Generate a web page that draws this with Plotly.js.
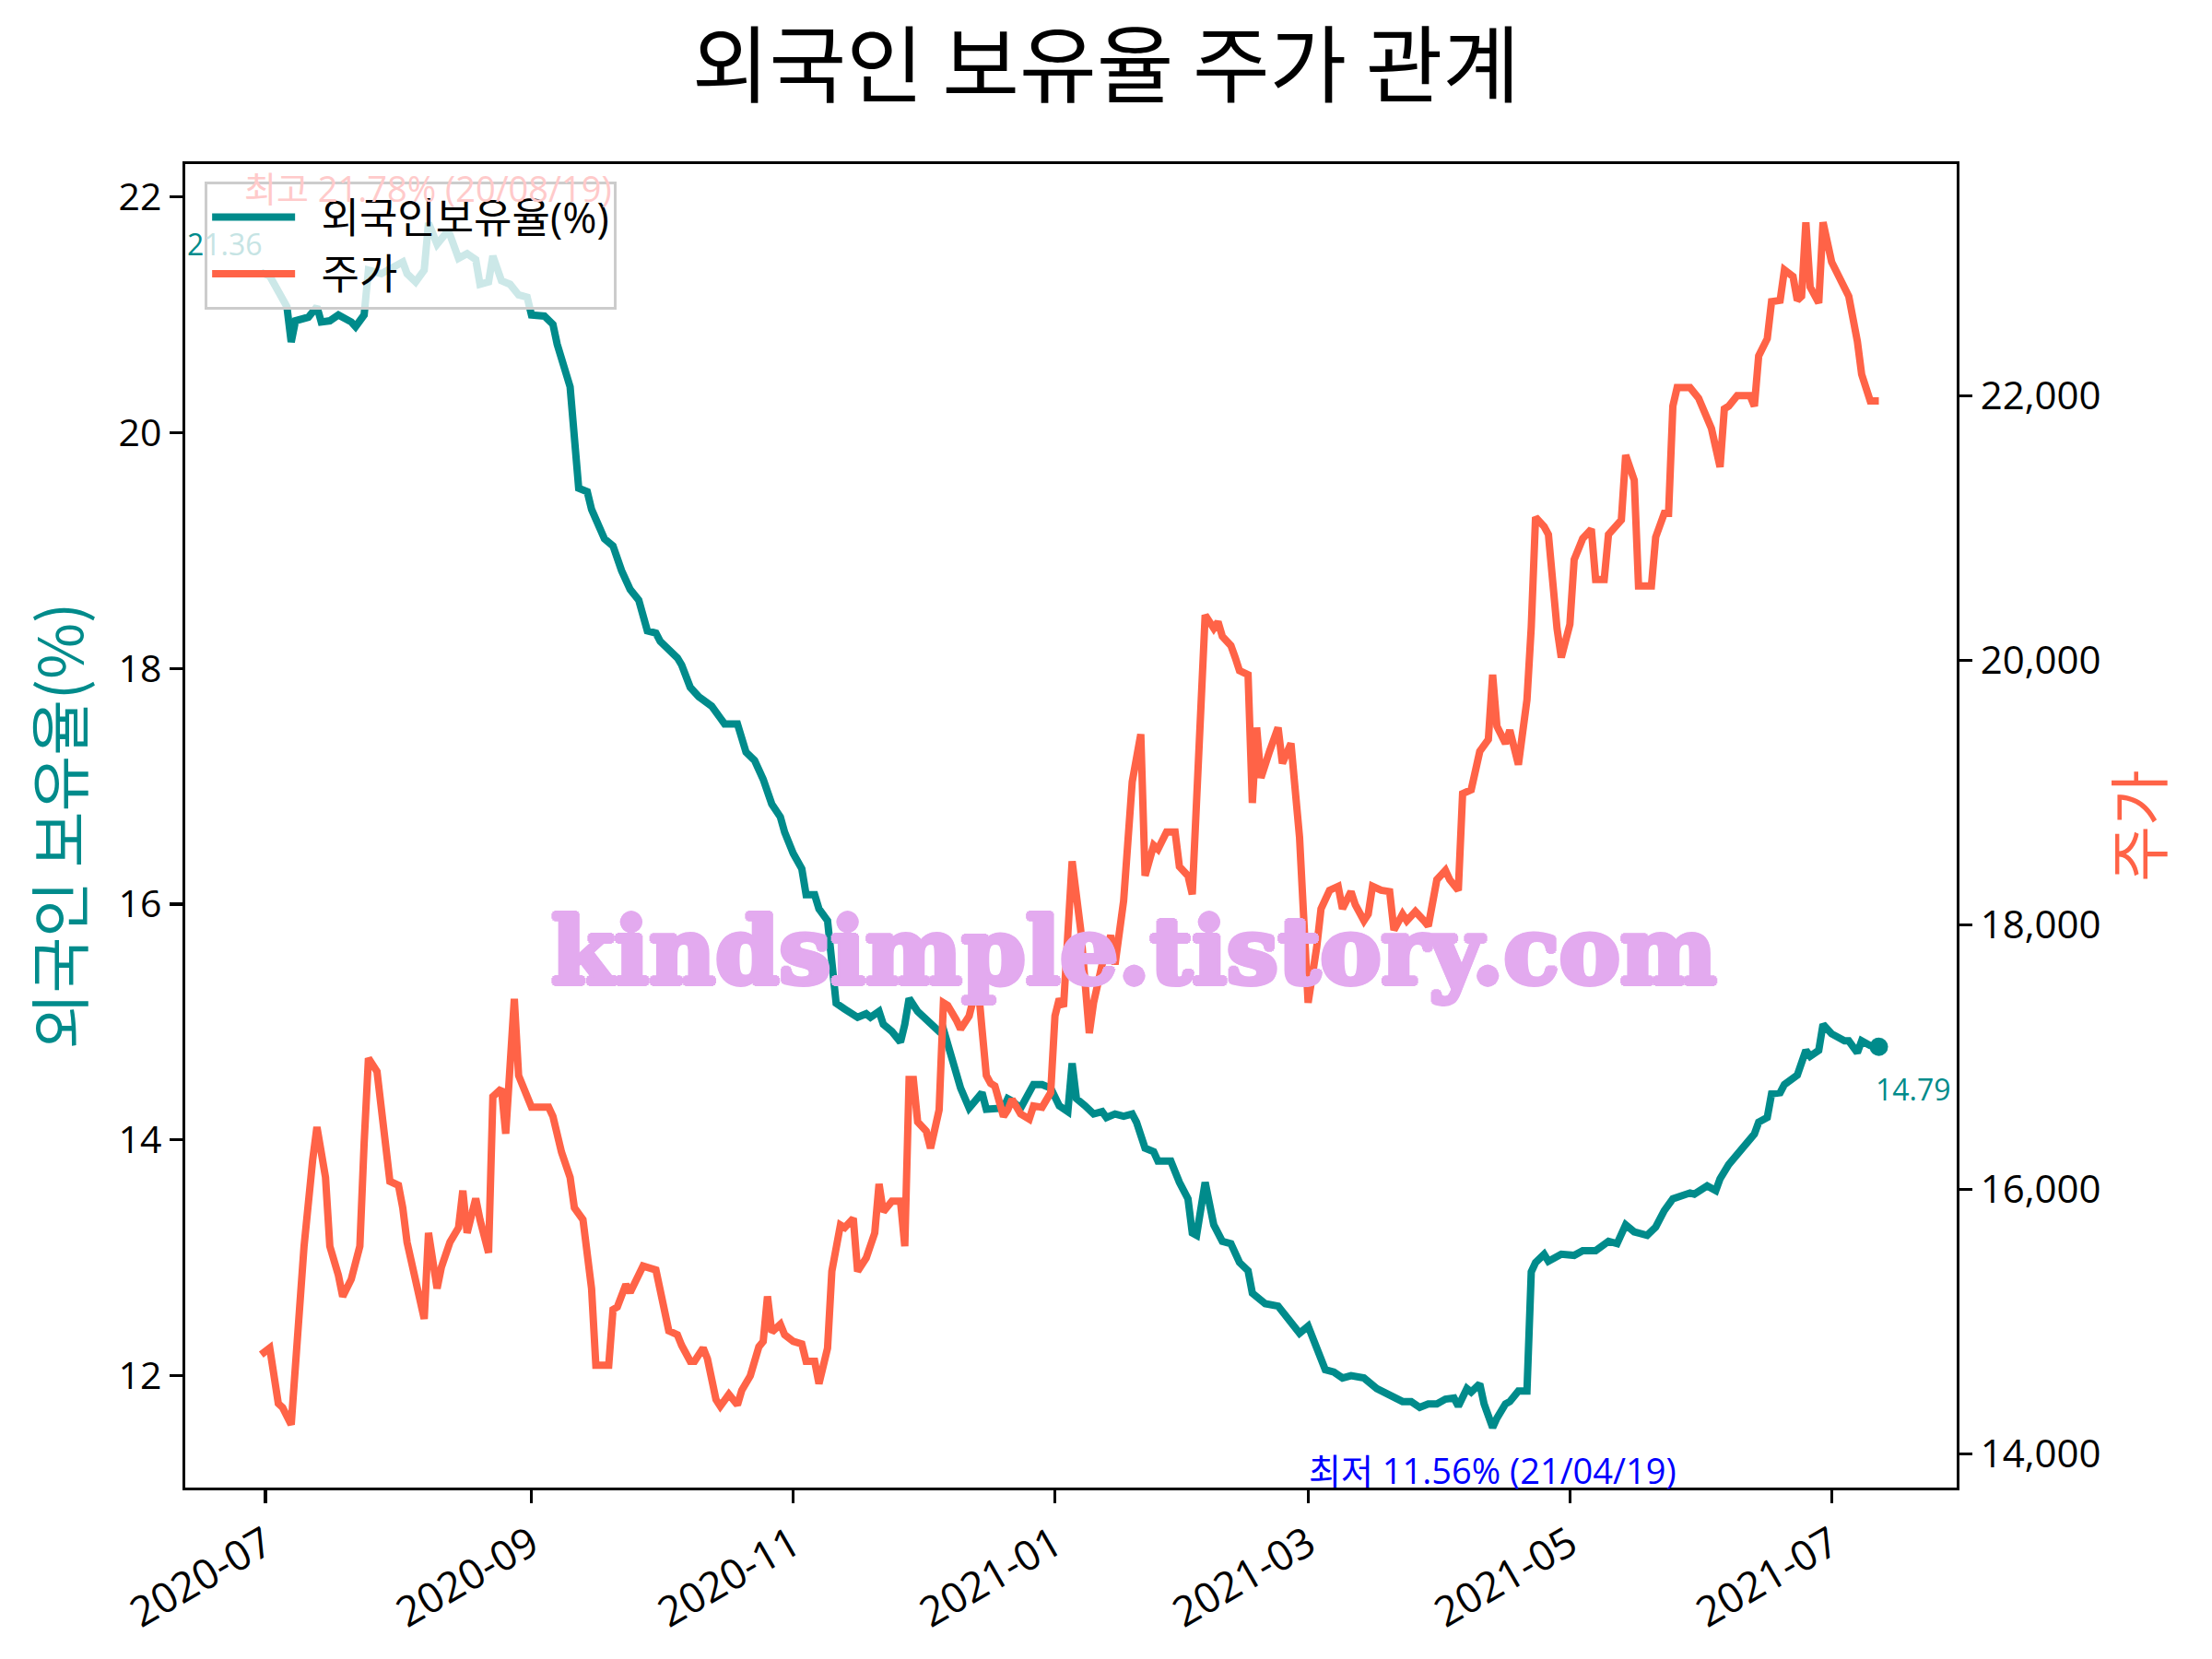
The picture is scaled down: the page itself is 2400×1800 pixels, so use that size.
<!DOCTYPE html>
<html>
<head>
<meta charset="utf-8">
<script src="https://cdn.plot.ly/plotly-3.0.1.min.js"></script>
<style>html,body{margin:0;padding:0;background:#fff;}#chart{width:2400px;height:1800px;}</style>
</head>
<body>
<div id="chart"></div>
<script>
// ---- data ----
var holdDates = ["2020-06-30","2020-07-02","2020-07-06","2020-07-07","2020-07-08","2020-07-11","2020-07-13","2020-07-14","2020-07-16","2020-07-18","2020-07-21","2020-07-22","2020-07-24","2020-07-25","2020-07-28","2020-07-31","2020-08-02","2020-08-03","2020-08-05","2020-08-07","2020-08-08","2020-08-10","2020-08-12","2020-08-13","2020-08-15","2020-08-17","2020-08-19","2020-08-20","2020-08-22","2020-08-23","2020-08-25","2020-08-27","2020-08-29","2020-08-31","2020-09-01","2020-09-04","2020-09-06","2020-09-07","2020-09-10","2020-09-12","2020-09-14","2020-09-15","2020-09-18","2020-09-20","2020-09-22","2020-09-24","2020-09-26","2020-09-28","2020-09-30","2020-10-01","2020-10-03","2020-10-05","2020-10-06","2020-10-07","2020-10-08","2020-10-10","2020-10-13","2020-10-15","2020-10-16","2020-10-19","2020-10-21","2020-10-23","2020-10-25","2020-10-27","2020-10-29","2020-10-30","2020-11-01","2020-11-03","2020-11-04","2020-11-06","2020-11-07","2020-11-09","2020-11-10","2020-11-11","2020-11-13","2020-11-16","2020-11-18","2020-11-19","2020-11-21","2020-11-22","2020-11-24","2020-11-26","2020-11-27","2020-11-28","2020-11-30","2020-12-02","2020-12-05","2020-12-06","2020-12-08","2020-12-10","2020-12-12","2020-12-14","2020-12-15","2020-12-16","2020-12-18","2020-12-20","2020-12-21","2020-12-22","2020-12-24","2020-12-26","2020-12-27","2020-12-29","2020-12-31","2021-01-02","2021-01-04","2021-01-05","2021-01-06","2021-01-08","2021-01-10","2021-01-12","2021-01-13","2021-01-15","2021-01-17","2021-01-19","2021-01-20","2021-01-22","2021-01-24","2021-01-25","2021-01-28","2021-01-30","2021-02-01","2021-02-02","2021-02-03","2021-02-05","2021-02-07","2021-02-09","2021-02-11","2021-02-13","2021-02-15","2021-02-16","2021-02-19","2021-02-22","2021-02-24","2021-02-27","2021-03-01","2021-03-03","2021-03-05","2021-03-07","2021-03-09","2021-03-11","2021-03-14","2021-03-17","2021-03-19","2021-03-23","2021-03-25","2021-03-27","2021-03-29","2021-03-31","2021-04-02","2021-04-04","2021-04-05","2021-04-07","2021-04-08","2021-04-10","2021-04-11","2021-04-13","2021-04-14","2021-04-16","2021-04-17","2021-04-19","2021-04-21","2021-04-22","2021-04-23","2021-04-25","2021-04-26","2021-04-29","2021-05-02","2021-05-04","2021-05-07","2021-05-10","2021-05-12","2021-05-14","2021-05-16","2021-05-19","2021-05-21","2021-05-23","2021-05-25","2021-05-29","2021-05-30","2021-06-02","2021-06-04","2021-06-05","2021-06-07","2021-06-10","2021-06-13","2021-06-14","2021-06-16","2021-06-17","2021-06-19","2021-06-20","2021-06-22","2021-06-23","2021-06-25","2021-06-26","2021-06-28","2021-06-29","2021-07-01","2021-07-02","2021-07-04","2021-07-05","2021-07-07","2021-07-08","2021-07-10","2021-07-12"];
var holdRatio = [21.36,21.33,21.07,20.77,20.95,20.98,21.07,20.94,20.95,21.00,20.94,20.90,21.00,21.38,21.35,21.41,21.45,21.35,21.28,21.38,21.78,21.60,21.69,21.68,21.48,21.52,21.47,21.26,21.28,21.50,21.29,21.26,21.17,21.15,21.00,20.99,20.92,20.75,20.39,19.53,19.50,19.35,19.10,19.04,18.83,18.67,18.58,18.32,18.30,18.23,18.17,18.09,18.03,17.91,17.84,17.76,17.68,17.58,17.53,17.53,17.29,17.22,17.06,16.85,16.74,16.61,16.43,16.30,16.08,16.08,15.96,15.86,15.49,15.16,15.11,15.04,15.07,15.04,15.09,14.98,14.92,14.83,14.98,15.20,15.09,15.02,14.92,14.94,14.69,14.44,14.27,14.35,14.40,14.26,14.26,14.27,14.35,14.33,14.27,14.40,14.47,14.47,14.44,14.29,14.24,14.65,14.35,14.29,14.22,14.24,14.19,14.22,14.20,14.22,14.15,13.93,13.90,13.82,13.82,13.64,13.50,13.21,13.19,13.64,13.28,13.14,13.12,12.96,12.89,12.70,12.61,12.59,12.49,12.36,12.42,12.23,12.05,12.03,11.98,12.00,11.98,11.89,11.85,11.78,11.78,11.73,11.76,11.76,11.80,11.81,11.74,11.89,11.86,11.93,11.76,11.56,11.64,11.76,11.78,11.87,11.87,12.88,12.96,13.03,12.97,13.03,13.02,13.06,13.06,13.14,13.12,13.28,13.22,13.19,13.26,13.40,13.50,13.55,13.54,13.61,13.57,13.67,13.79,13.93,14.05,14.15,14.19,14.39,14.40,14.47,14.52,14.55,14.76,14.71,14.76,14.98,14.90,14.88,14.84,14.84,14.74,14.84,14.80,14.79];

var priceDates = ["2020-06-30","2020-07-02","2020-07-04","2020-07-05","2020-07-07","2020-07-09","2020-07-10","2020-07-12","2020-07-13","2020-07-15","2020-07-16","2020-07-18","2020-07-19","2020-07-21","2020-07-23","2020-07-24","2020-07-25","2020-07-27","2020-07-29","2020-07-30","2020-08-01","2020-08-02","2020-08-03","2020-08-05","2020-08-07","2020-08-08","2020-08-10","2020-08-11","2020-08-13","2020-08-15","2020-08-16","2020-08-17","2020-08-19","2020-08-20","2020-08-22","2020-08-23","2020-08-25","2020-08-26","2020-08-28","2020-08-29","2020-08-31","2020-09-01","2020-09-05","2020-09-06","2020-09-08","2020-09-10","2020-09-11","2020-09-13","2020-09-15","2020-09-16","2020-09-19","2020-09-20","2020-09-21","2020-09-23","2020-09-24","2020-09-27","2020-09-30","2020-10-03","2020-10-05","2020-10-06","2020-10-08","2020-10-09","2020-10-11","2020-10-12","2020-10-14","2020-10-15","2020-10-17","2020-10-19","2020-10-20","2020-10-22","2020-10-24","2020-10-25","2020-10-26","2020-10-27","2020-10-29","2020-10-30","2020-11-01","2020-11-03","2020-11-04","2020-11-06","2020-11-07","2020-11-09","2020-11-10","2020-11-12","2020-11-13","2020-11-15","2020-11-16","2020-11-18","2020-11-20","2020-11-21","2020-11-22","2020-11-24","2020-11-26","2020-11-27","2020-11-28","2020-11-29","2020-11-30","2020-12-02","2020-12-03","2020-12-05","2020-12-06","2020-12-07","2020-12-09","2020-12-10","2020-12-12","2020-12-14","2020-12-15","2020-12-16","2020-12-17","2020-12-18","2020-12-20","2020-12-21","2020-12-22","2020-12-24","2020-12-26","2020-12-27","2020-12-29","2020-12-31","2021-01-01","2021-01-02","2021-01-03","2021-01-05","2021-01-07","2021-01-09","2021-01-10","2021-01-12","2021-01-14","2021-01-15","2021-01-17","2021-01-19","2021-01-21","2021-01-22","2021-01-24","2021-01-25","2021-01-27","2021-01-29","2021-01-30","2021-02-01","2021-02-02","2021-02-03","2021-02-05","2021-02-07","2021-02-08","2021-02-09","2021-02-11","2021-02-12","2021-02-13","2021-02-15","2021-02-16","2021-02-17","2021-02-18","2021-02-20","2021-02-22","2021-02-23","2021-02-25","2021-02-27","2021-02-28","2021-03-01","2021-03-03","2021-03-04","2021-03-06","2021-03-08","2021-03-09","2021-03-11","2021-03-12","2021-03-14","2021-03-15","2021-03-16","2021-03-18","2021-03-20","2021-03-21","2021-03-23","2021-03-24","2021-03-26","2021-03-28","2021-03-29","2021-03-31","2021-04-02","2021-04-03","2021-04-05","2021-04-06","2021-04-08","2021-04-10","2021-04-12","2021-04-13","2021-04-14","2021-04-16","2021-04-17","2021-04-19","2021-04-21","2021-04-22","2021-04-23","2021-04-25","2021-04-26","2021-04-28","2021-04-29","2021-05-01","2021-05-02","2021-05-04","2021-05-06","2021-05-07","2021-05-09","2021-05-10","2021-05-13","2021-05-14","2021-05-16","2021-05-17","2021-05-20","2021-05-21","2021-05-23","2021-05-24","2021-05-25","2021-05-26","2021-05-29","2021-05-31","2021-06-01","2021-06-03","2021-06-05","2021-06-06","2021-06-07","2021-06-09","2021-06-12","2021-06-13","2021-06-14","2021-06-16","2021-06-17","2021-06-19","2021-06-20","2021-06-22","2021-06-23","2021-06-24","2021-06-25","2021-06-26","2021-06-28","2021-06-29","2021-07-01","2021-07-02","2021-07-05","2021-07-07","2021-07-08","2021-07-10","2021-07-12"];
var priceValues = [14750,14800,14380,14350,14220,15090,15570,16220,16470,16090,15570,15350,15190,15320,15570,16350,16990,16890,16280,16060,16030,15860,15600,15320,15020,15670,15250,15410,15600,15710,15990,15670,15930,15770,15520,16700,16760,16420,17440,16860,16700,16620,16620,16550,16280,16090,15860,15770,15250,14670,14670,15090,15110,15280,15220,15420,15390,14930,14900,14820,14700,14700,14800,14720,14410,14360,14450,14370,14480,14590,14810,14850,15190,14920,14980,14900,14850,14830,14700,14700,14530,14800,15380,15730,15710,15780,15380,15480,15670,16040,15830,15910,15910,15570,16830,16830,16510,16440,16310,16600,17410,17390,17280,17210,17310,17570,17210,16860,16800,16780,16550,16600,16680,16570,16530,16630,16620,16730,17310,17440,17380,18480,17960,17180,17410,17700,17920,17700,18180,19080,19440,18370,18600,18570,18700,18700,18440,18370,18230,18950,20340,20240,20290,20180,20110,20020,19920,19890,18920,19490,19110,19310,19490,19220,19370,18660,17920,17410,17830,18120,18260,18290,18120,18250,18150,18030,18080,18290,18260,18250,17960,18080,18030,18100,18030,17990,18340,18410,18340,18260,18990,19020,19310,19400,19890,19500,19370,19470,19210,19700,20250,21080,21010,20950,20240,20020,20270,20760,20920,20990,20610,20610,20950,21060,21550,21360,20560,20560,20930,21110,21110,21920,22060,22060,21980,21900,21750,21460,21900,21920,22000,22000,21920,22300,22430,22710,22720,22950,22900,22720,22750,23310,22820,22700,23310,23010,22950,22750,22410,22160,21960,21960];

var seriesNames = ["외국인보유율(%)", "주가"];
var chartTitle = "외국인 보유율 주가 관계";
var leftTitle = "외국인 보유율(%)";
var rightTitle = "주가";
var maxLabel = "최고 21.78% (20/08/19)";
var minLabel = "최저 11.56% (21/04/19)";
var watermark = "kindsimple.tistory.com";

// ---- styling ----
var TEAL = "#008B8B", TOMATO = "#FF6347", WM = "#E3AAEF";
var FONT = "Open Sans, Noto Sans CJK KR, sans-serif";
var KFONT = "Noto Sans CJK KR, sans-serif";
var PAD = "\u00A0\u00A0";

var nH = holdRatio.length;
var maxIdx = holdRatio.indexOf(Math.max.apply(null, holdRatio));
var minIdx = holdRatio.indexOf(Math.min.apply(null, holdRatio));

var traces = [
  {x: holdDates, y: holdRatio, type: "scatter", mode: "lines", name: PAD + seriesNames[0],
   line: {color: TEAL, width: 8}, yaxis: "y"},
  {x: priceDates, y: priceValues, type: "scatter", mode: "lines", name: PAD + seriesNames[1],
   line: {color: TOMATO, width: 8}, yaxis: "y2"},
  {x: [holdDates[nH-1]], y: [holdRatio[nH-1]], type: "scatter", mode: "markers", showlegend: false,
   marker: {color: TEAL, size: 20}, yaxis: "y"}
];

var firstTxt = holdRatio[0].toFixed(2);
var lastTxt = holdRatio[nH-1].toFixed(2);
var wmShadow = "3px 0 0 " + WM + ", -3px 0 0 " + WM + ", 0 3px 0 " + WM + ", 0 -3px 0 " + WM +
               ", 2px 2px 0 " + WM + ", -2px -2px 0 " + WM + ", 2px -2px 0 " + WM + ", -2px 2px 0 " + WM;

var axisCommon = {showgrid: false, zeroline: false, showline: true, linecolor: "#000", linewidth: 3.3,
                  ticks: "outside", ticklen: 14, tickwidth: 3.3, tickcolor: "#000"};

var layout = {
  width: 2400, height: 1800,
  paper_bgcolor: "#fff", plot_bgcolor: "#fff",
  margin: {l: 201, r: 277, t: 178, b: 186, pad: 0},
  font: {family: FONT, size: 40, color: "#000"},
  showlegend: true,
  title: {text: chartTitle, font: {family: KFONT, size: 91, color: "#000"},
          x: 0.5, xref: "container", xanchor: "center", y: 1 - 72/1800, yref: "container", yanchor: "middle"},
  xaxis: Object.assign({type: "date", range: ["2020-06-12 07:26", "2021-07-30 03:36"],
          tick0: "2020-07-01", dtick: "M2", tickformat: "%Y-%m", tickangle: -30, mirror: true,
          tickfont: {family: FONT, size: 45, color: "#000"}}, axisCommon),
  yaxis: Object.assign({range: [11.05, 22.28], dtick: 2, tick0: 12,
          tickfont: {family: FONT, size: 41, color: "#000"},
          title: {text: leftTitle, font: {family: KFONT, size: 66, color: TEAL}, standoff: 17}}, axisCommon),
  yaxis2: Object.assign({range: [13745, 23750], dtick: 2000, tick0: 14000, tickformat: ",d", overlaying: "y", side: "right",
          tickfont: {family: FONT, size: 42, color: "#000"},
          title: {text: rightTitle, font: {family: KFONT, size: 66, color: TOMATO}, standoff: 22}}, axisCommon),
  legend: {x: 0.011, y: 0.987, xanchor: "left", yanchor: "top", xref: "paper", yref: "paper",
           bgcolor: "rgba(255,255,255,0.8)", bordercolor: "#cccccc", borderwidth: 3,
           font: {family: FONT, size: 45, color: "#000"}, itemwidth: 90, traceorder: "normal"},
  annotations: [
    {x: holdDates[maxIdx], y: holdRatio[maxIdx], xref: "x", yref: "y", text: maxLabel, showarrow: false,
     xanchor: "center", yanchor: "bottom", yshift: 10, font: {family: FONT, size: 38, color: "#ffcaca"}},
    {x: holdDates[minIdx], y: holdRatio[minIdx], xref: "x", yref: "y", text: minLabel, showarrow: false,
     xanchor: "center", yanchor: "top", yshift: -18, font: {family: FONT, size: 38, color: "#0000FF"}},
    {x: holdDates[0], y: holdRatio[0], xref: "x", yref: "y",
     text: '<span style="color:' + TEAL + '">' + firstTxt.charAt(0) + '</span><span style="color:#c6e4e4">' + firstTxt.slice(1) + '</span>',
     showarrow: false, xanchor: "right", yanchor: "bottom", yshift: 8, xshift: 4, font: {family: FONT, size: 32, color: TEAL}},
    {x: holdDates[nH-1], y: holdRatio[nH-1], xref: "x", yref: "y", text: lastTxt, showarrow: false,
     xanchor: "left", yanchor: "top", yshift: -22, xshift: -6, font: {family: FONT, size: 32, color: TEAL}},
    {x: 0.5355, y: 0.405, xref: "paper", yref: "paper", text: watermark, showarrow: false,
     xanchor: "center", yanchor: "middle",
     font: {family: "DejaVu Serif, serif", size: 99, color: WM, weight: "bold", shadow: wmShadow}}
  ]
};

Plotly.newPlot("chart", traces, layout, {staticPlot: true, displayModeBar: false});
</script>
</body>
</html>
